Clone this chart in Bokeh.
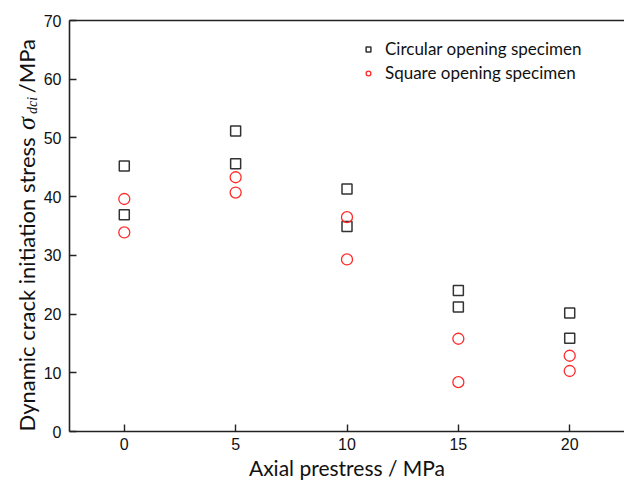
import numpy as np
from bokeh.plotting import figure
from bokeh.models import LinearAxis, Legend, LegendItem, FixedTicker, Range1d
from bokeh.core.properties import value
from bokeh.layouts import row
from bokeh.embed import file_html
from bokeh.resources import INLINE

# Data
prestress = [0, 0, 5, 5, 10, 10, 15, 15, 20, 20]
circular = [45.2, 36.9, 51.2, 45.6, 41.3, 34.9, 24.0, 21.2, 20.2, 15.9]
square = [39.6, 33.9, 43.3, 40.7, 36.5, 29.3, 15.8, 8.4, 12.9, 10.3]
x_ticks = [0, 5, 10, 15, 20]
y_ticks = [0, 10, 20, 30, 40, 50, 60, 70]

SANS = "Lato"
TICKF = "Liberation Sans"
H = 482
LW = 40           # width of the y-label strip
TOP, BOT = 20, 49  # borders shared by both panels

# ---- y label strip: data y == H - page pixel y ----
lab = figure(width=LW, height=H, output_backend="svg", toolbar_location=None,
             x_range=Range1d(0, LW), y_range=Range1d(BOT, H - TOP),
             x_axis_location=None, y_axis_location=None,
             min_border_left=0, min_border_right=0,
             min_border_top=TOP, min_border_bottom=BOT)
lab.outline_line_color = None
lab.grid.visible = False
common = dict(angle=np.pi / 2, text_align="left", text_baseline="alphabetic",
              text_color="#111111")
lab.text(x=[26], y=[H - 433], text=["Dynamic crack initiation stress"],
         text_font=value(SANS), text_font_size="22px", **common)
lab.text(x=[26], y=[H - 130], text=["σ"], text_font=value("Liberation Serif"),
         text_font_style="italic", text_font_size="26px", **common)
lab.text(x=[32], y=[H - 114], text=["dci"], text_font=value("Liberation Serif"),
         text_font_style="italic", text_font_size="14px", **common)
lab.text(x=[26], y=[H - 93], text=["/MPa"], text_font=value(SANS),
         text_font_size="22px", **common)

# ---- main plot ----
p = figure(width=624 - LW, height=H, output_backend="svg", toolbar_location=None,
           x_range=Range1d(-2.46, 22.46), y_range=Range1d(0, 70),
           min_border_left=67 - LW, min_border_right=0, min_border_top=TOP,
           min_border_bottom=BOT)
p.outline_line_color = None
p.grid.visible = False

r1 = p.scatter(prestress, circular, marker="square", size=10, fill_color=None,
               line_color="#333333", line_width=1.5)
r2 = p.scatter(prestress, square, marker="circle", size=11, fill_color=None,
               line_color="#FF2A2A", line_width=1.3)

for ax in (p.xaxis[0], p.yaxis[0]):
    ax.axis_line_color = "#222222"
    ax.axis_line_width = 1.6
    ax.major_tick_line_color = "#222222"
    ax.major_tick_line_width = 1.4
    ax.major_tick_in = 7
    ax.major_tick_out = 0
    ax.minor_tick_line_color = None
    ax.major_label_text_font = TICKF
    ax.major_label_text_font_size = "16px"
    ax.major_label_text_color = "#111111"

p.xaxis.ticker = FixedTicker(ticks=x_ticks)
p.yaxis.ticker = FixedTicker(ticks=y_ticks)
p.xaxis.major_label_standoff = 6
p.yaxis.major_label_standoff = 8
p.xaxis.axis_label = "Axial prestress / MPa"
p.xaxis.axis_label_text_font = SANS
p.xaxis.axis_label_text_font_size = "21px"
p.xaxis.axis_label_text_font_style = "normal"
p.xaxis.axis_label_text_color = "#111111"
p.xaxis.axis_label_standoff = 2

top = LinearAxis(ticker=FixedTicker(ticks=[]), major_label_text_font_size="0px",
                 axis_line_color="#222222", axis_line_width=1.6,
                 major_tick_line_color=None, minor_tick_line_color=None)
p.add_layout(top, "above")

legend = Legend(items=[LegendItem(label="Circular opening specimen", renderers=[r1]),
                       LegendItem(label="Square opening specimen", renderers=[r2])],
                location=(293, 348), background_fill_alpha=0, border_line_color=None,
                padding=0, margin=0, glyph_width=12, glyph_height=20, spacing=3,
                label_standoff=11, label_text_font=SANS, label_text_font_size="17px",
                label_text_color="#111111", label_height=20)
p.add_layout(legend)

layout = row(lab, p, spacing=0)
open("out.html", "w").write(file_html(layout, INLINE))
